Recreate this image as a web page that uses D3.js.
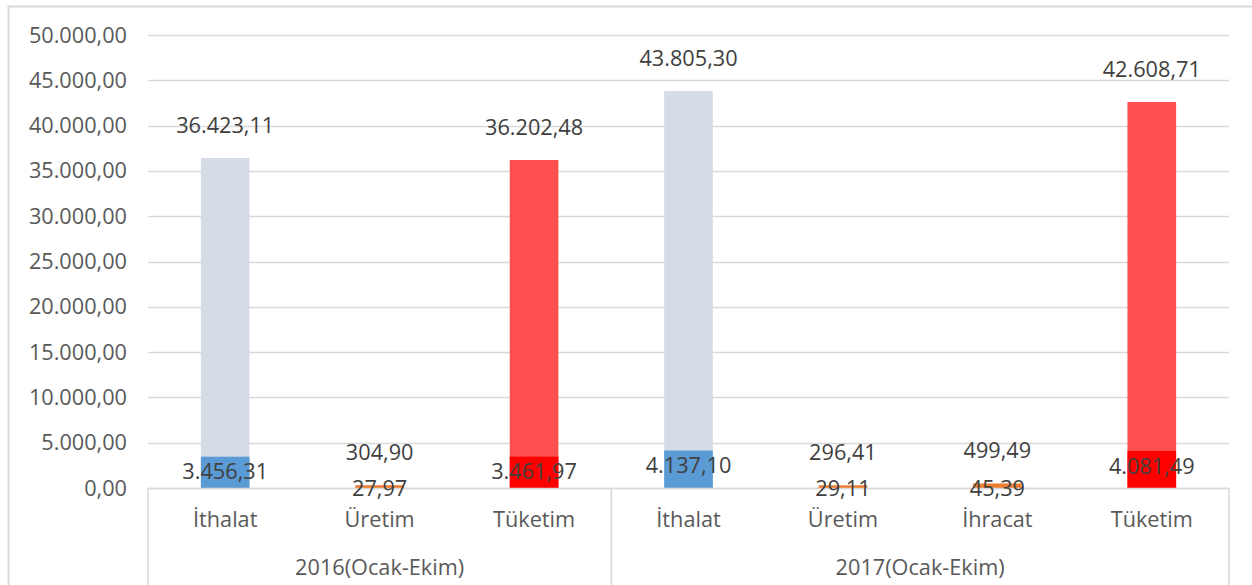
<!DOCTYPE html>
<html>
<head>
<meta charset="utf-8">
<script src="https://cdn.jsdelivr.net/npm/d3@7/dist/d3.min.js"></script>
<style>
    body { margin: 0; background: #fff; }
    svg { display: block; font-family: "Open Sans", sans-serif; }
</style>
</head>
<body>
<svg id="chart" width="1252" height="585"></svg>
<script>
// chart data
const categories = ['İthalat', 'Üretim', 'Tüketim', 'İthalat', 'Üretim', 'İhracat', 'Tüketim'];
const groups = ['2016(Ocak-Ekim)', '2017(Ocak-Ekim)'];
const groupSizes = [3, 4];
const totalValues = [36423.11, 304.90, 36202.48, 43805.30, 296.41, 499.49, 42608.71];
const partValues = [3456.31, 27.97, 3461.97, 4137.10, 29.11, 45.39, 4081.49];
const yTicks = [0, 5000, 10000, 15000, 20000, 25000, 30000, 35000, 40000, 45000, 50000];

// colours per category kind
const totalColor = { 'İthalat': '#d6dce5', 'Üretim': '#ed7d31', 'İhracat': '#ed7d31', 'Tüketim': '#ff4f4f' };
const partColor = { 'İthalat': '#5b9bd5', 'Üretim': '#ed7d31', 'İhracat': '#ed7d31', 'Tüketim': '#ff0000' };

const svg = d3.select('#chart');
const plotLeft = 148;
const plotRight = 1229;
const plotTop = 35;
const plotBottom = 488;
const fontSize = '21.7px';

const fmt = d3.formatLocale({
    decimal: ',',
    thousands: '.',
    grouping: [3],
    currency: ['', '']
}).format(',.2f');

const idx = categories.map((c, i) => i);
const x = d3.scaleBand().domain(idx).range([plotLeft, plotRight]).paddingInner(0).paddingOuter(0);
const y = d3.scaleLinear().domain([0, 50000]).range([plotBottom, plotTop]);
const barW = x.bandwidth() * 0.315;

// outer chart border
svg.append('rect')
    .attr('x', 8.5).attr('y', 6.5)
    .attr('width', 1260).attr('height', 600)
    .attr('fill', 'none')
    .attr('stroke', '#d9d9d9')
    .attr('stroke-width', 2);

// gridlines
svg.append('g')
    .selectAll('line')
    .data(yTicks)
    .enter()
    .append('line')
    .attr('x1', plotLeft).attr('x2', plotRight)
    .attr('y1', (d) => Math.round(y(d)) + 0.5)
    .attr('y2', (d) => Math.round(y(d)) + 0.5)
    .attr('stroke', '#d9d9d9')
    .attr('stroke-width', 1.5);

// y tick labels
svg.append('g')
    .selectAll('text')
    .data(yTicks)
    .enter()
    .append('text')
    .attr('x', 127)
    .attr('y', (d) => y(d))
    .attr('dy', '0.35em')
    .attr('text-anchor', 'end')
    .attr('font-size', fontSize)
    .attr('fill', '#595959')
    .text((d) => fmt(d));

// bars: big series then overlapping small series
const bars = svg.append('g');
bars.selectAll('.total')
    .data(idx)
    .enter()
    .append('rect')
    .attr('class', 'total')
    .attr('x', (i) => x(i) + (x.bandwidth() - barW) / 2)
    .attr('width', barW)
    .attr('y', (i) => y(totalValues[i]))
    .attr('height', (i) => Math.max(1.5, plotBottom - y(totalValues[i])))
    .attr('fill', (i) => totalColor[categories[i]]);

bars.selectAll('.part')
    .data(idx)
    .enter()
    .append('rect')
    .attr('class', 'part')
    .attr('x', (i) => x(i) + (x.bandwidth() - barW) / 2)
    .attr('width', barW)
    .attr('y', (i) => y(partValues[i]))
    .attr('height', (i) => plotBottom - y(partValues[i]))
    .attr('fill', (i) => partColor[categories[i]]);

// category axis box
const axis = svg.append('g').attr('stroke', '#d9d9d9').attr('stroke-width', 1.5);
axis.append('line')
    .attr('x1', plotLeft).attr('x2', plotRight)
    .attr('y1', plotBottom + 0.5).attr('y2', plotBottom + 0.5);
let start = 0;
const bounds = [0];
groupSizes.forEach((n) => { start += n; bounds.push(start); });
const edgeX = (b) => (b === categories.length ? plotRight : x(b));
axis.selectAll('.sep')
    .data(bounds)
    .enter()
    .append('line')
    .attr('x1', edgeX)
    .attr('x2', edgeX)
    .attr('y1', plotBottom).attr('y2', 585);

// data labels
svg.append('g')
    .selectAll('text')
    .data(idx)
    .enter()
    .append('text')
    .attr('x', (i) => x(i) + x.bandwidth() / 2)
    .attr('y', (i) => y(totalValues[i]) - 33)
    .attr('dy', '0.35em')
    .attr('text-anchor', 'middle')
    .attr('font-size', fontSize)
    .attr('fill', '#404040')
    .text((i) => fmt(totalValues[i]));

svg.append('g')
    .selectAll('text')
    .data(idx)
    .enter()
    .append('text')
    .attr('x', (i) => x(i) + x.bandwidth() / 2)
    .attr('y', (i) => Math.min(plotBottom, y(partValues[i]) + 15))
    .attr('dy', '0.35em')
    .attr('text-anchor', 'middle')
    .attr('font-size', fontSize)
    .attr('fill', '#404040')
    .text((i) => fmt(partValues[i]));

// category labels
svg.append('g')
    .selectAll('text')
    .data(idx)
    .enter()
    .append('text')
    .attr('x', (i) => x(i) + x.bandwidth() / 2)
    .attr('y', 519)
    .attr('dy', '0.35em')
    .attr('text-anchor', 'middle')
    .attr('font-size', fontSize)
    .attr('fill', '#595959')
    .text((i) => categories[i]);

// group labels
svg.append('g')
    .selectAll('text')
    .data(groups)
    .enter()
    .append('text')
    .attr('x', (g, k) => (edgeX(bounds[k]) + edgeX(bounds[k + 1])) / 2)
    .attr('y', 567)
    .attr('dy', '0.35em')
    .attr('text-anchor', 'middle')
    .attr('font-size', fontSize)
    .attr('fill', '#595959')
    .text((g) => g);
</script>
</body>
</html>
